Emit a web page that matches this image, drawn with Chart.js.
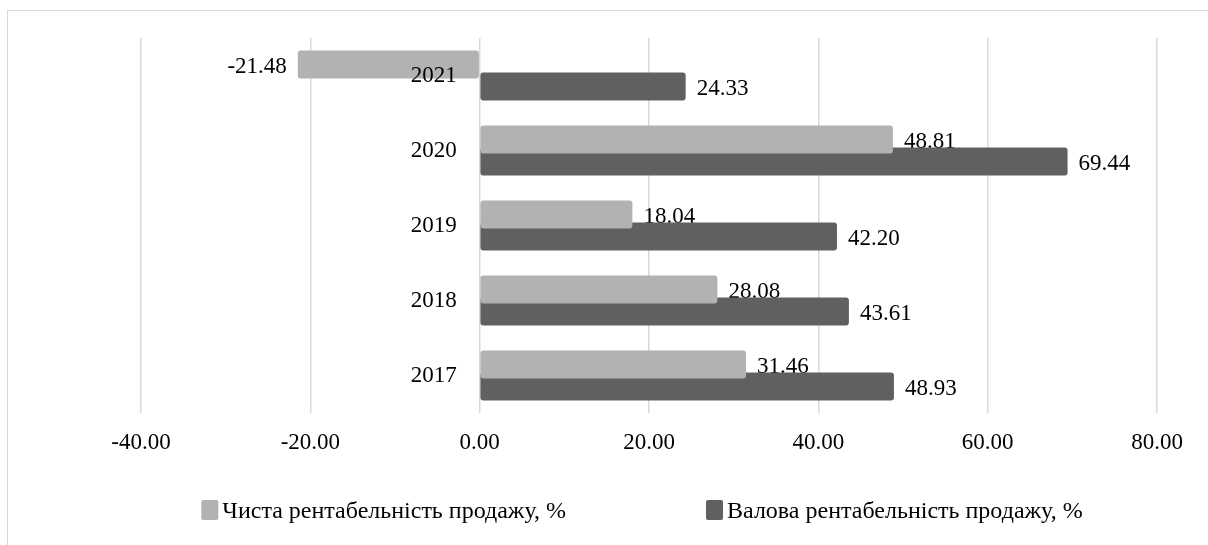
<!DOCTYPE html>
<html><head><meta charset="utf-8">
<script src="https://cdn.jsdelivr.net/npm/chart.js@4.4.1/dist/chart.umd.min.js"></script>
<style>
html,body{margin:0;padding:0;background:#fff;overflow:hidden;}
#wrap{position:relative;width:1208px;height:545px;overflow:hidden;}
#frame{position:absolute;left:7px;top:10px;width:1400px;height:800px;border:1px solid #d9d9d9;}
canvas{position:absolute;left:0;top:0;}
</style></head><body>
<div id="wrap"><div id="frame"></div><canvas id="c" width="1208" height="545"></canvas></div>
<script>
const years = ['2021', '2020', '2019', '2018', '2017'];
const netMargin = [-21.48, 48.81, 18.04, 28.08, 31.46];
const grossMargin = [24.33, 69.44, 42.20, 43.61, 48.93];
const seriesNames = ['Чиста рентабельність продажу, %', 'Валова рентабельність продажу, %'];
const xTicks = [-40, -20, 0, 20, 40, 60, 80];

const FONT = "'Liberation Serif','Times New Roman',serif";

function drawLabels(chart, dsIndex) {
  const meta = chart.getDatasetMeta(dsIndex);
  const data = chart.data.datasets[dsIndex].data;
  const ctx = chart.ctx;
  ctx.save();
  ctx.font = '23px ' + FONT;
  ctx.fillStyle = '#000';
  ctx.textBaseline = 'middle';
  meta.data.forEach((bar, i) => {
    const v = data[i];
    const neg = v < 0;
    ctx.textAlign = neg ? 'right' : 'left';
    ctx.fillText(v.toFixed(2), bar.x + (neg ? -11 : 11), bar.y + 2);
  });
  ctx.restore();
}

const valueLabels = {
  id: 'valueLabels',
  beforeDatasetsDraw(chart) { drawLabels(chart, 0); },
  afterDatasetsDraw(chart) { drawLabels(chart, 1); }
};

const customLegend = {
  id: 'customLegend',
  afterDraw(chart, args, opts) {
    const ctx = chart.ctx;
    ctx.save();
    ctx.font = opts.fontSize + 'px ' + FONT;
    ctx.textBaseline = 'middle';
    ctx.textAlign = 'left';
    const ds = chart.data.datasets;
    const widths = ds.map(d => opts.box + opts.gap + ctx.measureText(d.label).width);
    const total = widths.reduce((a, b) => a + b, 0) + opts.itemGap * (ds.length - 1);
    let x = opts.centerX - total / 2;
    ds.forEach((d, i) => {
      ctx.fillStyle = d.backgroundColor;
      ctx.beginPath();
      ctx.roundRect(x, opts.y - opts.boxH / 2, opts.box, opts.boxH, 2);
      ctx.fill();
      ctx.fillStyle = '#000';
      ctx.fillText(d.label, x + opts.box + opts.gap, opts.y + 2);
      x += widths[i] + opts.itemGap;
    });
    ctx.restore();
  }
};

new Chart(document.getElementById('c'), {
  type: 'bar',
  data: {
    labels: years,
    datasets: [
      { label: seriesNames[0], data: netMargin, backgroundColor: '#b2b2b2', borderWidth: 0,
        borderRadius: 3, borderSkipped: false, order: 0,
        categoryPercentage: 0.587, barPercentage: 1.27 },
      { label: seriesNames[1], data: grossMargin, backgroundColor: '#606060', borderWidth: 0,
        borderRadius: 3, borderSkipped: false, order: 1,
        categoryPercentage: 0.587, barPercentage: 1.27 }
    ]
  },
  options: {
    indexAxis: 'y',
    responsive: false,
    animation: false,
    layout: { padding: { left: 141, right: 51, top: 38, bottom: 50 } },
    scales: {
      x: {
        min: -40, max: 80,
        afterBuildTicks(scale) { scale.ticks = xTicks.map(v => ({ value: v })); },
        afterFit(scale) { scale.height = 82; },
        grid: { color: '#d9d9d9', lineWidth: 1.5, drawTicks: false },
        border: { display: false },
        ticks: {
          padding: 16, color: '#000', font: { family: FONT, size: 23 },
          callback: v => Number(v).toFixed(2)
        }
      },
      y: {
        position: { x: -2.7 },
        z: 1,
        grid: { display: false, drawTicks: false },
        border: { display: false },
        ticks: { z: 1, padding: 0, color: '#000', font: { family: FONT, size: 23 } }
      }
    },
    plugins: {
      tooltip: { enabled: false },
      legend: { display: false },
      customLegend: { fontSize: 24, box: 17, boxH: 20, gap: 4, itemGap: 140, centerX: 642, y: 510 }
    }
  },
  plugins: [valueLabels, customLegend]
});
</script>
</body></html>
